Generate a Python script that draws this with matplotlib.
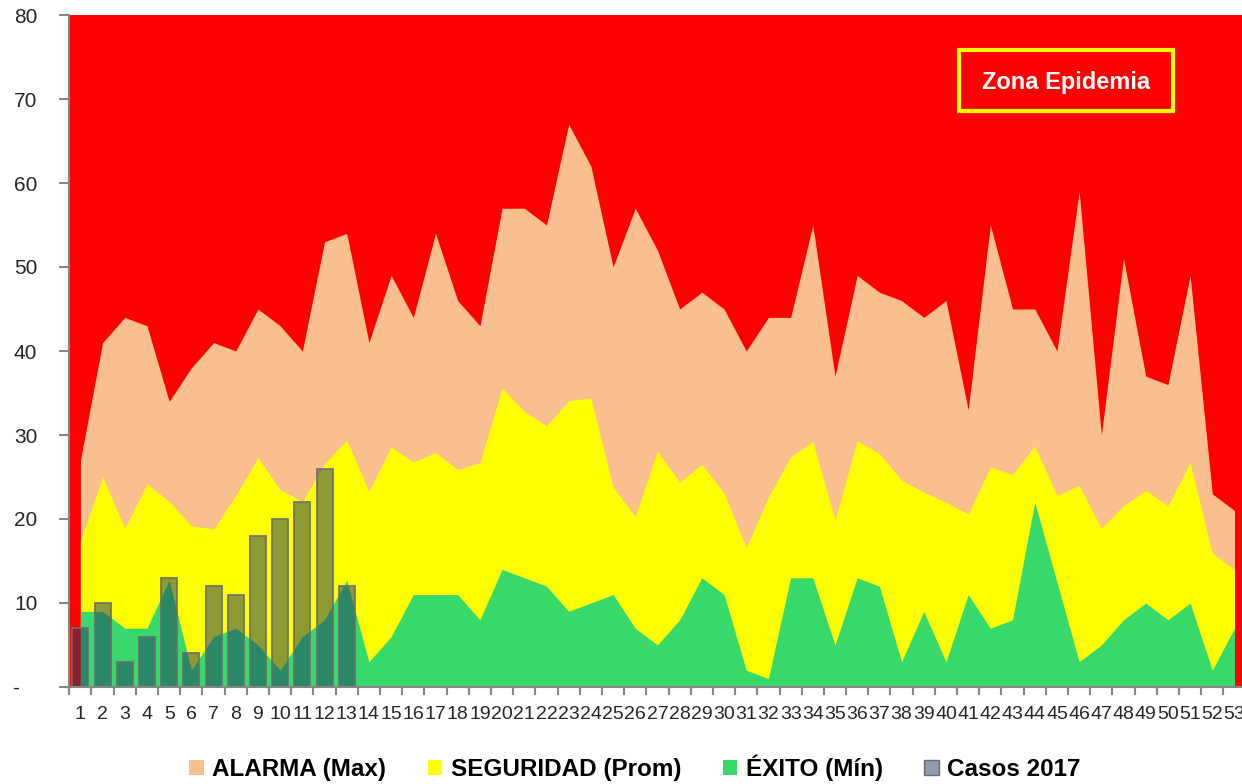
import numpy as np
import matplotlib.pyplot as plt
from matplotlib.patches import Patch, Rectangle

weeks = np.arange(1, 54)
alarma = [27, 41, 44, 43, 34, 38, 41, 40, 45, 43, 40, 53, 54, 41, 49, 44, 54, 46, 43, 57,
          57, 55, 67, 62, 50, 57, 52, 45, 47, 45, 40, 44, 44, 55, 37, 49, 47, 46, 44, 46,
          33, 55, 45, 45, 40, 59, 30, 51, 37, 36, 49, 23, 21]
seguridad = [17.4, 25.0, 18.9, 24.2, 22.1, 19.2, 18.8, 22.8, 27.3, 23.5, 22.1, 26.6, 29.4,
             23.3, 28.6, 26.8, 27.9, 25.9, 26.7, 35.6, 32.8, 31.1, 34.1, 34.4, 23.8, 20.3,
             28.1, 24.4, 26.5, 23.1, 16.6, 22.6, 27.4, 29.2, 19.9, 29.3, 27.8, 24.6, 23.2,
             22.0, 20.6, 26.2, 25.3, 28.7, 22.8, 24.0, 18.9, 21.6, 23.4, 21.6, 26.7, 15.9, 14.0]
exito = [9, 9, 7, 7, 12.7, 2, 6, 7, 5, 2, 6, 8, 12.7, 3, 6, 11, 11, 11, 8, 14,
         13, 12, 9, 10, 11, 7, 5, 8, 13, 11, 2, 1, 13, 13, 5, 13, 12, 3, 9, 3,
         11, 7, 8, 22, 12.5, 3, 5, 8, 10, 8, 10, 2, 7]
casos_weeks = np.arange(1, 14)
casos = [7, 10, 3, 6, 13, 4, 12, 11, 18, 20, 22, 26, 12]

c_red = '#FF0000'
c_peach = '#F9BF8F'
c_yellow = '#FFFF00'
c_green = '#36D96A'
c_bar = (31 / 255, 56 / 255, 100 / 255, 0.5)
c_axis = '#868686'

fig = plt.figure(figsize=(12.42, 7.84), dpi=100)
ax = fig.add_axes([69.3 / 1242, 97 / 784, 1176.3 / 1242, 672 / 784])
ax.set_facecolor(c_red)

ax.fill_between(weeks, alarma, color=c_peach, lw=0)
ax.fill_between(weeks, seguridad, color=c_yellow, lw=0)
ax.fill_between(weeks, exito, color=c_green, lw=0)
ax.bar(casos_weeks, casos, width=0.72, facecolor=c_bar, edgecolor='#6d6d6d', lw=1.2)

ax.set_xlim(0.5, 53.5)
ax.set_ylim(0, 80)

for s in ['top', 'right']:
    ax.spines[s].set_visible(False)
for s in ['left', 'bottom']:
    ax.spines[s].set_color(c_axis)
    ax.spines[s].set_linewidth(1.5)

tick_font = ['Liberation Sans', 'DejaVu Sans']
ax.set_yticks(np.arange(0, 81, 10))
ax.set_yticklabels(['-   '] + [str(v) for v in range(10, 81, 10)],
                   fontsize=15, family=tick_font, color='#262626')
ax.tick_params(axis='y', length=7, width=1.5, color=c_axis, pad=16)

ax.set_xticks(weeks)
ax.set_xticklabels([str(w) for w in weeks], fontsize=14, family=tick_font, color='#262626')
ax.set_xticks(np.arange(0.5, 54, 1), minor=True)
ax.tick_params(axis='x', which='major', length=0, pad=14)
ax.tick_params(axis='x', which='minor', length=6, width=1.5, color=c_axis)

# recuadro "Zona Epidemia"
fig.patches.append(Rectangle((959 / 1242, 1 - 111 / 784), 214 / 1242, 61 / 784,
                             transform=fig.transFigure, facecolor='none',
                             edgecolor=c_yellow, lw=3))
fig.text(1066 / 1242, 1 - 82 / 784, 'Zona Epidemia', color='white', fontsize=17,
         fontweight='bold', family=['Liberation Sans', 'DejaVu Sans'],
         ha='center', va='center')

handles = [Patch(facecolor=c_peach, edgecolor='none', label='ALARMA (Max)'),
           Patch(facecolor=c_yellow, edgecolor='none', label='SEGURIDAD (Prom)'),
           Patch(facecolor=c_green, edgecolor='none', label='ÉXITO (Mín)'),
           Patch(facecolor=c_bar, edgecolor='#6d6d6d', label='Casos 2017')]
fig.legend(handles=handles, loc='center', bbox_to_anchor=(635 / 1242, 1 - 768 / 784),
           ncol=4, frameon=False, handlelength=0.6, handleheight=0.6,
           handletextpad=0.35, columnspacing=1.7,
           prop={'family': ['Liberation Sans', 'DejaVu Sans'], 'weight': 'bold', 'size': 17.5})

fig.savefig('out.png', dpi=100)
